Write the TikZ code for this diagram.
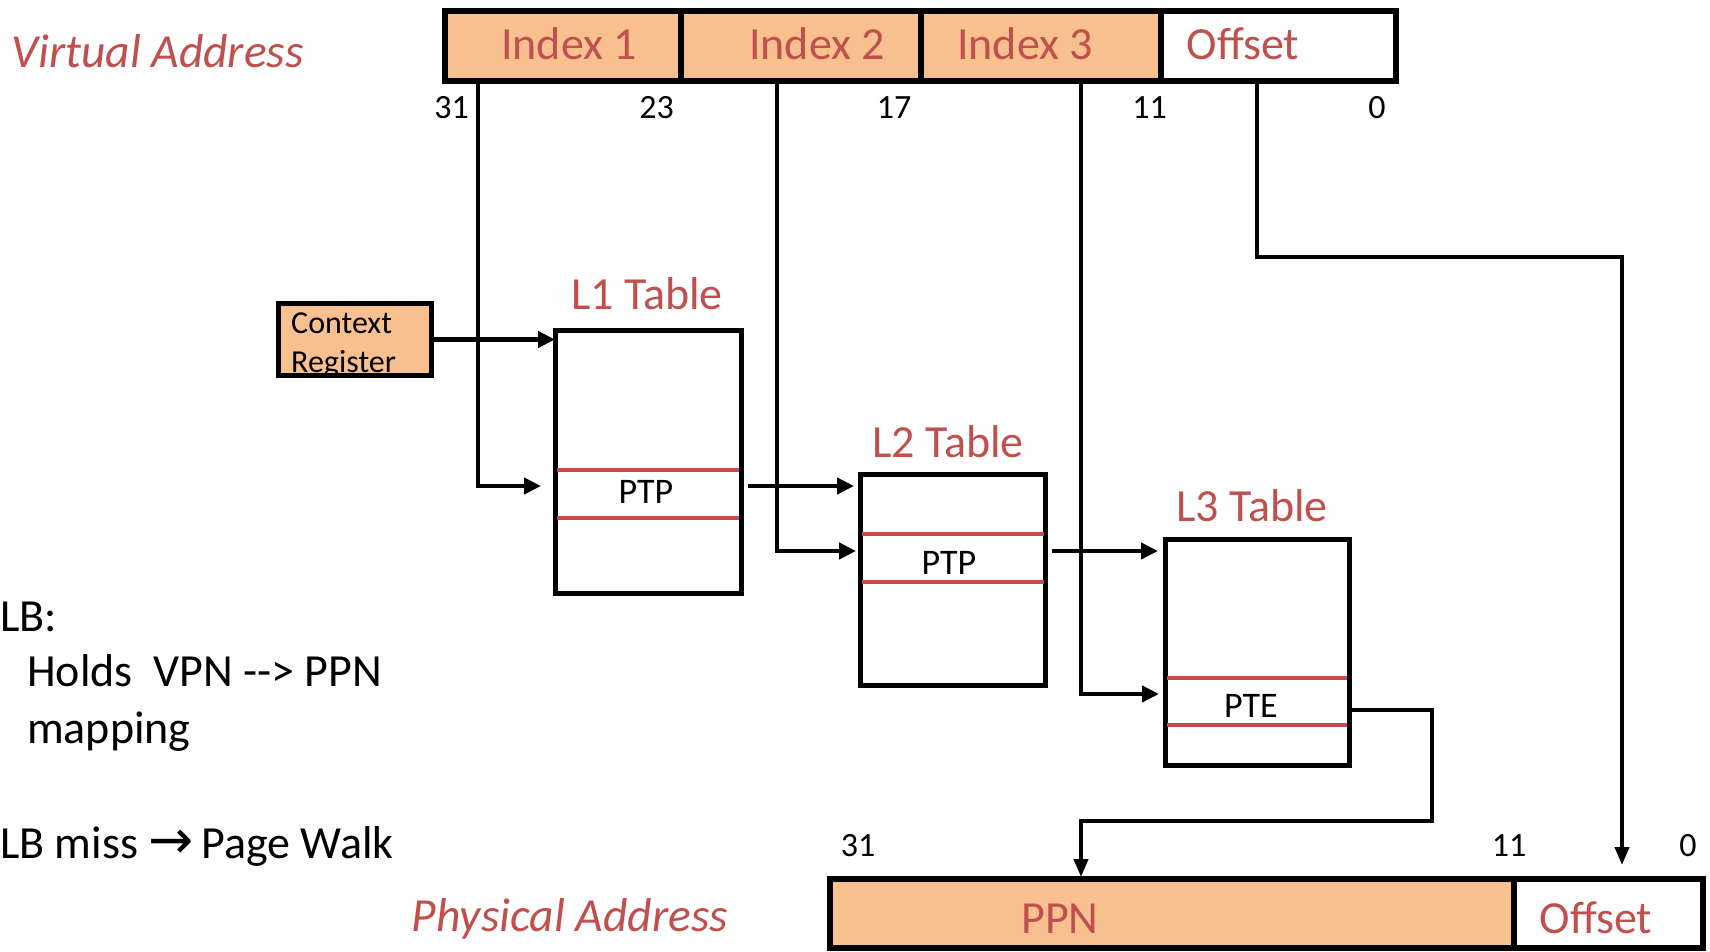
\documentclass[tikz,border=0pt]{standalone}
\usepackage{fontspec}
\setmainfont{Carlito}
\newfontfamily\symfont{DejaVu Sans}
\usetikzlibrary{arrows.meta}
\definecolor{fieldorange}{RGB}{249,192,143}
\definecolor{txtred}{RGB}{192,80,77}
\tikzset{
 fld/.style={draw, line width=5.5pt, fill=fieldorange, inner sep=0pt, outer sep=0pt, anchor=north west},
 tbl/.style={draw, line width=5pt, fill=white, inner sep=0pt, outer sep=0pt, anchor=north west},
 redtxt/.style={text=txtred, font=\fontsize{46}{55}\selectfont, anchor=base, inner sep=0pt},
 italtxt/.style={text=txtred, font=\fontsize{47.5}{56}\selectfont\itshape, inner sep=0pt},
 bitnum/.style={font=\fontsize{34}{40}\selectfont, anchor=base, inner sep=0pt},
 rowtxt/.style={font=\fontsize{36}{43}\selectfont, anchor=base, inner sep=0pt},
 ctxtxt/.style={font=\fontsize{32}{38}\selectfont, anchor=base west, inner sep=0pt},
 bodytxt/.style={font=\fontsize{46}{55}\selectfont, anchor=base west, inner sep=0pt},
 rowline/.style={draw=txtred, line width=4.5pt},
 conn/.style={line width=4.5pt, -{Triangle[length=17pt,width=16pt]}},
 connb/.style={line width=4pt, -{Triangle[length=18pt,width=14pt]}},
}
\begin{document}
\begin{tikzpicture}[x=1pt,y=-1pt]
\useasboundingbox (0,0) rectangle (1710,952);

% Virtual address bar
\node[fld, minimum width=236pt, minimum height=70pt] (va1) at (445,11) {};
\node[fld, minimum width=240pt, minimum height=70pt] (va2) at (681,11) {};
\node[fld, minimum width=240pt, minimum height=70pt] (va3) at (921,11) {};
\node[fld, fill=white, minimum width=235pt, minimum height=70pt] (va4) at (1161,11) {};
\node[redtxt] (ti1) at (569,60) {Index 1};
\node[redtxt] (ti2) at (817,60) {Index 2};
\node[redtxt] (ti3) at (1025,60) {Index 3};
\node[redtxt] (tio) at (1243,60) {Offset};
\node[italtxt, anchor=base west] (vlab) at (11,68) {Virtual Address};

\node[bitnum] (b31) at (451.5,119) {31};
\node[bitnum] (b23) at (656.5,119) {23};
\node[bitnum] (b17) at (894,119) {17};
\node[bitnum] (b11) at (1149.5,119) {11};
\node[bitnum] (b0) at (1377,119) {0};

% Context register
\node[fld, minimum width=153pt, minimum height=72pt] (ctx) at (278.5,303.5) {};
\node[ctxtxt] (ctx1) at (291,333) {Context};
\node[ctxtxt] (ctx2) at (291,372) {Register};

% Tables
\node[tbl, minimum width=186pt, minimum height=263pt] (l1) at (555,330) {};
\draw[rowline] (557,470) -- (739,470);
\draw[rowline] (557,518) -- (739,518);
\node[rowtxt] (p1) at (646,503) {PTP};
\node[redtxt] (l1lab) at (647,309) {L1 Table};

\node[tbl, minimum width=185.5pt, minimum height=211pt] (l2) at (860,474) {};
\draw[rowline] (862,534) -- (1043.5,534);
\draw[rowline] (862,582) -- (1043.5,582);
\node[rowtxt] (p2) at (949,574) {PTP};
\node[redtxt] (l2lab) at (948,457) {L2 Table};

\node[tbl, minimum width=184pt, minimum height=226pt] (l3) at (1165,539) {};
\draw[rowline] (1167,678) -- (1347,678);
\draw[rowline] (1167,725) -- (1347,725);
\node[rowtxt] (p3) at (1251,717) {PTE};
\node[redtxt] (l3lab) at (1252,521) {L3 Table};

% Physical address bar
\node[fld, minimum width=684pt, minimum height=69pt] (pa1) at (830,879) {};
\node[fld, fill=white, minimum width=189pt, minimum height=69pt] (pa2) at (1514,879) {};
\node[redtxt] (tppn) at (1060,933) {PPN};
\node[redtxt] (tpo) at (1596,933) {Offset};
\node[italtxt, anchor=base] (plab) at (570,931) {Physical Address};
\node[bitnum] (c31) at (858,856) {31};
\node[bitnum] (c11) at (1509,856) {11};
\node[bitnum] (c0) at (1688,856) {0};

% Left text
\node[bodytxt] (tl1) at (0,631) {LB:};
\node[bodytxt] (tl2) at (27,686) {Holds\ \ VPN {-}{-}> PPN};
\node[bodytxt] (tl3) at (27,743) {mapping};
\node[bodytxt] (tl4) at (0,858) {LB miss {\symfont\fontsize{54}{60}\selectfont →}\,Page Walk};

% Coordinates
\coordinate (v1) at (478,83);
\coordinate (v2) at (777,83);
\coordinate (v3) at (1081,83);
\coordinate (v4) at (1257,83);
\coordinate (t1) at (541,486);
\coordinate (s12) at (748,486);
\coordinate (t12) at (854,486);
\coordinate (t2) at (856,551);
\coordinate (s23) at (1052,551);
\coordinate (t23) at (1158,551);
\coordinate (t3) at (1159,694);
\coordinate (s3) at (1351,710);
\coordinate (k1) at (1432,821);
\coordinate (t5) at (1081,877);
\coordinate (c4) at (1622,257);
\coordinate (t4) at (1622,865);

% Connectors
\draw[conn] (ctx.east) -- (ctx.east -| l1.west);
\draw[conn] (v1) |- (t1);
\draw[conn] (s12) -- (t12);
\draw[conn] (v2) |- (t2);
\draw[conn] (s23) -- (t23);
\draw[conn] (v3) |- (t3);
\draw[connb] (v4) |- (c4) -- (t4);
\draw[connb] (s3) -| (k1) -| (t5);
\end{tikzpicture}
\end{document}
